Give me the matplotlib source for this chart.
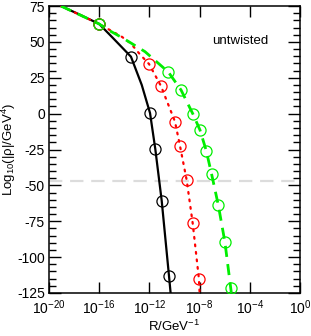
import numpy as np
from matplotlib import pyplot as plt
from matplotlib.ticker import MultipleLocator, NullLocator

plt.rcParams['font.family'] = ['Liberation Sans', 'DejaVu Sans']
plt.rcParams['mathtext.fontset'] = 'custom'
plt.rcParams['mathtext.rm'] = 'Liberation Sans'
plt.rcParams['mathtext.it'] = 'Liberation Sans:italic'
plt.rcParams['axes.unicode_minus'] = False

# log10(R / GeV^-1) vs log10(|rho| / GeV^4)
black_x = [-19.04, -17.5, -16.0, -14.88, -13.47, -12.61, -11.95, -11.53, -11.02, -10.44, -10.31]
black_y = [75.0, 68.8, 62.5, 52.5, 39.7, 20.0, 0.4, -24.7, -60.7, -113.0, -125.0]
black_pts_x = [-16.0, -13.47, -11.95, -11.53, -11.02, -10.44]
black_pts_y = [62.5, 39.7, 0.4, -24.7, -60.7, -113.0]

red_x = [-19.04, -16.0, -14.2, -13.49, -12.75, -12.03, -11.08, -9.96, -9.56, -9.03, -8.55, -8.05, -8.0]
red_y = [75.0, 62.5, 53.6, 49.0, 41.3, 34.6, 19.3, -5.6, -22.6, -46.3, -76.4, -115.5, -125.0]
red_pts_x = [-16.0, -12.03, -11.08, -9.96, -9.56, -9.03, -8.55, -8.05]
red_pts_y = [62.5, 34.6, 19.3, -5.6, -22.6, -46.3, -76.4, -115.5]

green_x = [-19.04, -16.0, -15.27, -14.08, -12.35, -10.49, -9.48, -8.53, -7.97, -7.47, -7.04, -6.51, -5.98, -5.52, -5.47]
green_y = [75.0, 62.5, 58.3, 52.5, 43.2, 29.0, 16.5, -0.3, -11.4, -25.8, -42.3, -63.7, -89.7, -121.5, -125.0]
green_pts_x = [-16.0, -10.49, -9.48, -8.53, -7.97, -7.47, -7.04, -6.51, -5.98, -5.52]
green_pts_y = [62.5, 29.0, 16.5, -0.3, -11.4, -25.8, -42.3, -63.7, -89.7, -121.5]

hline_y = -47.0
x_tick_exps = [-20, -16, -12, -8, -4, 0]

fig = plt.figure(figsize=(3.11, 3.36), dpi=100)
ax = fig.add_axes([0.1576, 0.128, 0.807, 0.854])

ax.axhline(hline_y, color='#dcdcdc', lw=1.6, dashes=(6, 3.5), zorder=1)

ax.plot(10.0 ** np.array(black_x), black_y, color='black', lw=1.6, zorder=3)
ax.plot(10.0 ** np.array(black_pts_x), black_pts_y, 'o', mfc='none', mec='black', ms=8, mew=0.9, zorder=4)

ax.plot(10.0 ** np.array(red_x), red_y, color='#ff0000', lw=1.6, ls=(0, (0.8, 2.6)), dash_capstyle='round', zorder=3)
ax.plot(10.0 ** np.array(red_pts_x), red_pts_y, 'o', mfc='none', mec='#ff0000', ms=8, mew=0.9, zorder=4)

ax.plot(10.0 ** np.array(green_x), green_y, color='#00ee00', lw=2.0, dashes=(4, 2.6), zorder=3)
ax.plot(10.0 ** np.array(green_pts_x), green_pts_y, 'o', mfc='none', mec='#00ee00', ms=8, mew=0.9, zorder=4)

ax.set_xscale('log')
ax.set_xlim(1e-20, 1e0)
ax.set_ylim(-125, 75)
ax.set_xticks([10.0 ** e for e in x_tick_exps])
ax.set_xticklabels([r'$\mathregular{10^{%d}}$' % e for e in x_tick_exps])
ax.xaxis.set_minor_locator(NullLocator())
ax.yaxis.set_major_locator(MultipleLocator(25))
ax.yaxis.set_minor_locator(MultipleLocator(5))

ax.tick_params(which='both', direction='in', top=True, right=True, labelsize=10, width=1.0)
ax.tick_params(axis='x', which='major', length=8, pad=4)
ax.tick_params(axis='y', which='major', length=8.5, pad=3)
ax.tick_params(axis='y', which='minor', length=5)
for s in ax.spines.values():
    s.set_linewidth(1.1)

ax.set_xlabel(r'R/GeV$^{\mathregular{-1}}$', fontsize=9.5, va='center')
ax.xaxis.set_label_coords(0.5, -0.117)
ax.set_ylabel(r'Log$_{\mathregular{10}}$(|ρ|/GeV$^{\mathregular{4}}$)', fontsize=9.5, va='center')
ax.yaxis.set_label_coords(-0.16, 0.5)
ax.text(0.76, 0.878, 'untwisted', transform=ax.transAxes, fontsize=9.5, ha='center', va='center')

fig.savefig('out.png', dpi=100)
